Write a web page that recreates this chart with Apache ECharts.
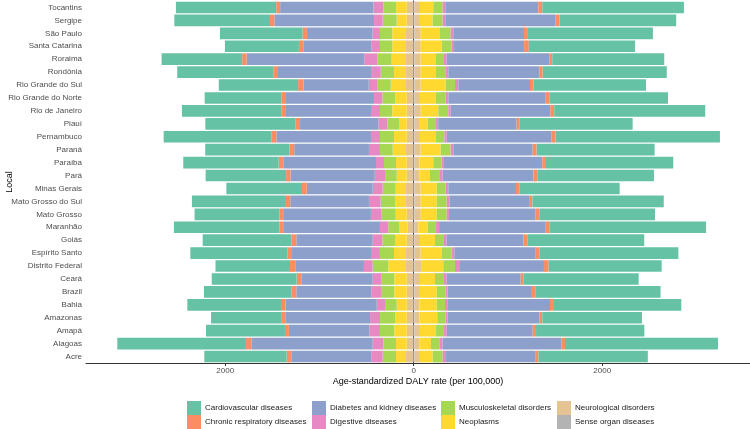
<!DOCTYPE html>
<html>
<head>
<meta charset="utf-8">
<script src="https://cdn.jsdelivr.net/npm/echarts@6/dist/echarts.min.js"></script>
<style>
  html, body { margin: 0; padding: 0; background: #fff; }
  #chart { width: 750px; height: 429px; }
</style>
</head>
<body>
<div id="chart"></div>
<script>
// bottom to top, like the y axis
const locals = ['Acre', 'Alagoas', 'Amapá', 'Amazonas', 'Bahia', 'Brazil', 'Ceará', 'Distrito Federal',
  'Espírito Santo', 'Goiás', 'Maranhão', 'Mato Grosso', 'Mato Grosso do Sul', 'Minas Gerais', 'Pará',
  'Paraíba', 'Paraná', 'Pernambuco', 'Piauí', 'Rio de Janeiro', 'Rio Grande do Norte', 'Rio Grande do Sul',
  'Rondônia', 'Roraima', 'Santa Catarina', 'São Paulo', 'Sergipe', 'Tocantins']

const causes = ['Sense organ diseases', 'Neurological disorders', 'Neoplasms', 'Musculoskeletal disorders',
  'Digestive diseases', 'Diabetes and kidney diseases', 'Chronic respiratory diseases', 'Cardiovascular diseases']

// left side of the bars (drawn as negative)
const leftSense = [8, 8, 8, 8, 8, 8, 8, 8, 8, 8, 8, 8, 8, 8, 8, 8, 8, 8, 8, 8, 8, 8, 8, 8, 8, 8, 8, 8]
const leftNeuro = [74, 66, 66, 66, 66, 66, 66, 74, 74, 66, 60, 66, 74, 74, 66, 66, 74, 66, 66, 66, 66, 74, 74, 74, 74, 74, 66, 66]
const leftNeo = [106, 114, 132, 124, 106, 132, 132, 188, 127, 124, 88, 117, 117, 109, 106, 114, 141, 135, 82, 153, 124, 162, 127, 152, 145, 145, 106, 113]
const leftMusc = [141, 135, 152, 159, 124, 141, 134, 166, 149, 135, 114, 149, 152, 138, 124, 127, 135, 149, 124, 131, 135, 138, 141, 153, 131, 131, 149, 134]
const leftDig = [117, 112, 114, 106, 88, 99, 95, 92, 95, 102, 88, 114, 124, 106, 109, 85, 117, 95, 95, 95, 88, 95, 103, 138, 88, 78, 92, 106]
const leftDiab = [853, 1288, 852, 894, 966, 800, 758, 729, 838, 811, 1019, 923, 835, 700, 895, 984, 793, 1005, 831, 902, 934, 690, 987, 1248, 726, 697, 1058, 990]
const leftResp = [49, 56, 42, 50, 50, 49, 49, 56, 50, 49, 46, 46, 46, 50, 46, 49, 49, 49, 46, 46, 46, 60, 46, 47, 46, 46, 46, 42]
const leftCardio = [874, 1366, 838, 743, 994, 930, 901, 790, 1029, 944, 1121, 902, 997, 803, 854, 1012, 895, 1146, 959, 1058, 817, 841, 1023, 855, 785, 877, 1015, 1064]

// right side of the bars
const rightSense = [8, 8, 8, 8, 8, 8, 8, 8, 8, 8, 8, 8, 8, 8, 8, 8, 8, 8, 8, 8, 8, 8, 8, 8, 8, 8, 8, 8]
const rightNeuro = [59, 51, 59, 51, 51, 59, 59, 77, 66, 59, 41, 66, 66, 66, 51, 51, 66, 59, 48, 66, 59, 66, 66, 66, 66, 66, 59, 59]
const rightNeo = [135, 124, 170, 191, 185, 177, 159, 229, 223, 159, 100, 170, 170, 170, 114, 149, 212, 170, 92, 187, 167, 265, 162, 162, 223, 205, 134, 141]
const rightMusc = [106, 95, 85, 89, 88, 95, 95, 124, 106, 95, 88, 106, 106, 95, 106, 89, 106, 88, 88, 106, 106, 99, 99, 85, 106, 113, 106, 99]
const rightDig = [35, 29, 29, 21, 24, 21, 29, 53, 28, 29, 32, 24, 28, 28, 29, 24, 28, 25, 24, 25, 28, 35, 32, 28, 25, 28, 28, 28]
const rightDiab = [952, 1263, 912, 972, 1090, 894, 785, 891, 864, 813, 1132, 920, 846, 718, 961, 1043, 842, 1114, 832, 1057, 1033, 761, 966, 1089, 743, 750, 1171, 987]
const rightResp = [28, 35, 35, 32, 42, 42, 28, 50, 38, 42, 38, 38, 35, 35, 42, 39, 42, 42, 28, 42, 38, 39, 36, 32, 50, 42, 42, 42]
const rightCardio = [1161, 1623, 1149, 1058, 1351, 1323, 1224, 1199, 1475, 1241, 1663, 1228, 1394, 1065, 1238, 1351, 1252, 1743, 1203, 1602, 1259, 1192, 1316, 1188, 1128, 1326, 1237, 1503]

const xTicks = [-2000, 0, 2000]

const colors = {
    'Cardiovascular diseases': '#66C2A5',
    'Chronic respiratory diseases': '#FC8D62',
    'Diabetes and kidney diseases': '#8DA0CB',
    'Digestive diseases': '#E78AC3',
    'Musculoskeletal disorders': '#A6D854',
    'Neoplasms': '#FFD92F',
    'Neurological disorders': '#E5C494',
    'Sense organ diseases': '#B3B3B3'
}

const leftData = [leftSense, leftNeuro, leftNeo, leftMusc, leftDig, leftDiab, leftResp, leftCardio]
const rightData = [rightSense, rightNeuro, rightNeo, rightMusc, rightDig, rightDiab, rightResp, rightCardio]

const series = []
causes.forEach((name, i) => {
    series.push({
        name: name, type: 'bar', stack: 'daly', barCategoryGap: '10%',
        itemStyle: { color: colors[name] },
        data: rightData[i]
    })
})
causes.forEach((name, i) => {
    series.push({
        name: name, type: 'bar', stack: 'daly', barCategoryGap: '10%',
        itemStyle: { color: colors[name] },
        data: leftData[i].map(v => -v)
    })
})

const font = "'Liberation Sans', Arial, sans-serif"
function legendCol(names, left) {
    return {
        data: names, left: left, top: 401, orient: 'vertical',
        itemWidth: 14, itemHeight: 14, itemGap: 0, icon: 'rect', padding: 0,
        selectedMode: false,
        textStyle: { fontSize: 8, color: '#1a1a1a', fontFamily: font, padding: [0, 0, 0, -1] }
    }
}

const chart = echarts.init(document.getElementById('chart'))
chart.setOption({
    animation: false,
    textStyle: { fontFamily: font },
    grid: { left: 86, right: 0, top: 1, bottom: 66, containLabel: false, outerBoundsMode: 'none' },
    legend: [
        legendCol(['Cardiovascular diseases', 'Chronic respiratory diseases'], 187),
        legendCol(['Diabetes and kidney diseases', 'Digestive diseases'], 312),
        legendCol(['Musculoskeletal disorders', 'Neoplasms'], 441),
        legendCol(['Neurological disorders', 'Sense organ diseases'], 557)
    ],
    xAxis: {
        type: 'value', min: -3477, max: 3568,
        name: 'Age-standardized DALY rate (per 100,000)',
        nameLocation: 'middle', nameGap: 14, nameMoveOverlap: false,
        nameTextStyle: { fontSize: 9, color: '#000', fontFamily: font },
        splitLine: { show: false },
        axisLine: { show: true, lineStyle: { color: '#333', width: 1 } },
        axisTick: { show: true, customValues: xTicks, length: 3, lineStyle: { color: '#333' } },
        axisLabel: {
            customValues: xTicks, fontSize: 8, color: '#4d4d4d', margin: 4,
            formatter: v => String(Math.abs(v))
        }
    },
    yAxis: {
        type: 'category', data: locals,
        name: 'Local', nameLocation: 'middle', nameGap: 72, nameRotate: 90, nameMoveOverlap: false,
        nameTextStyle: { fontSize: 9, color: '#000', fontFamily: font },
        axisLine: { show: true, lineStyle: { color: '#333', width: 1 } },
        axisTick: { show: true, alignWithLabel: true, length: 3, lineStyle: { color: '#333' } },
        axisLabel: { fontSize: 8, color: '#4d4d4d', margin: 4, interval: 0 }
    },
    series: series
})
</script>
</body>
</html>
